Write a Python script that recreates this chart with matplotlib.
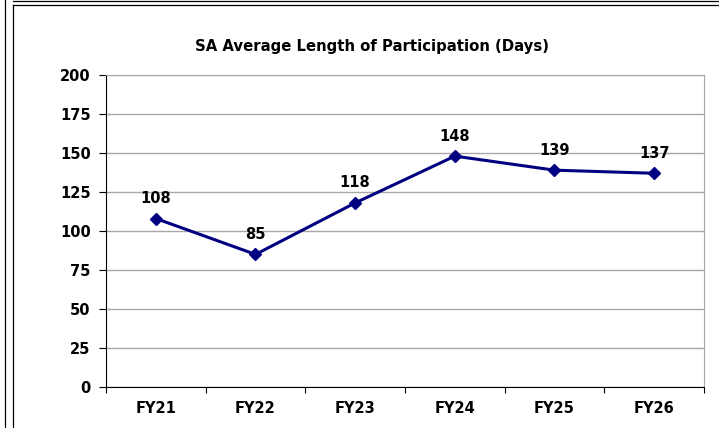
import numpy as np
import matplotlib
matplotlib.use("Agg")
import matplotlib.pyplot as plt
from matplotlib.lines import Line2D

years = ["FY21", "FY22", "FY23", "FY24", "FY25", "FY26"]
days = [108, 85, 118, 148, 139, 137]
yticks = [0, 25, 50, 75, 100, 125, 150, 175, 200]

plt.rcParams['font.family'] = ['DejaVu Sans']

fig = plt.figure(figsize=(7.19, 4.28), dpi=100)
W, H = 719, 428
# plot area in pixels: left 106, right 704, top 75, bottom 387
ax = fig.add_axes([106 / W, 1 - 387 / H, (704 - 106) / W, (387 - 75) / H])

x = np.arange(len(years))
ax.plot(x, days, color='#000080', lw=2.2, marker='D', ms=6, zorder=3)
for xi, v in zip(x, days):
    ax.annotate(str(v), (xi, v), xytext=(0, 9), textcoords='offset points',
                ha='center', va='bottom', fontsize=10.5, fontweight='semibold')

ax.set_xlim(-0.5, len(years) - 0.5)
ax.set_ylim(0, 200)
ax.set_yticks(yticks)
ax.yaxis.grid(True, color='#a8a8a8', lw=1)
ax.set_axisbelow(True)

# category ticks at boundaries, labels at centres
ax.set_xticks(np.arange(-0.5, len(years) + 0.5, 1))
ax.set_xticklabels([])
ax.set_xticks(x, minor=True)
ax.set_xticklabels(years, minor=True, fontsize=10.5, fontweight='bold')
ax.tick_params(axis='x', which='minor', length=0, pad=10)
ax.tick_params(axis='x', which='major', length=4, direction='out', color='black')
ax.tick_params(axis='y', length=5, direction='out', labelsize=10.5, pad=6)
for lab in ax.get_yticklabels():
    lab.set_fontweight('bold')

ax.spines['left'].set_color('black')
ax.spines['bottom'].set_color('black')
ax.spines['top'].set_color('#a8a8a8')
ax.spines['right'].set_color('#a8a8a8')

fig.text(372 / W, 1 - 46 / H, 'SA Average Length of Participation (Days)',
         ha='center', va='center', fontsize=10.7, fontweight='bold')

# page frame lines
fig.add_artist(Line2D([5 / W, 5 / W], [0, 1], color='black', lw=0.9))
fig.add_artist(Line2D([12.5 / W, 12.5 / W], [0, 1 - 4.5 / H], color='black', lw=0.9))
fig.add_artist(Line2D([12.5 / W, 1], [1 - 4.5 / H, 1 - 4.5 / H], color='black', lw=0.9))
fig.add_artist(Line2D([13 / W, 1], [1 - 1 / H, 1 - 1 / H], color='black', lw=0.9))

fig.savefig('out.png', dpi=100)
